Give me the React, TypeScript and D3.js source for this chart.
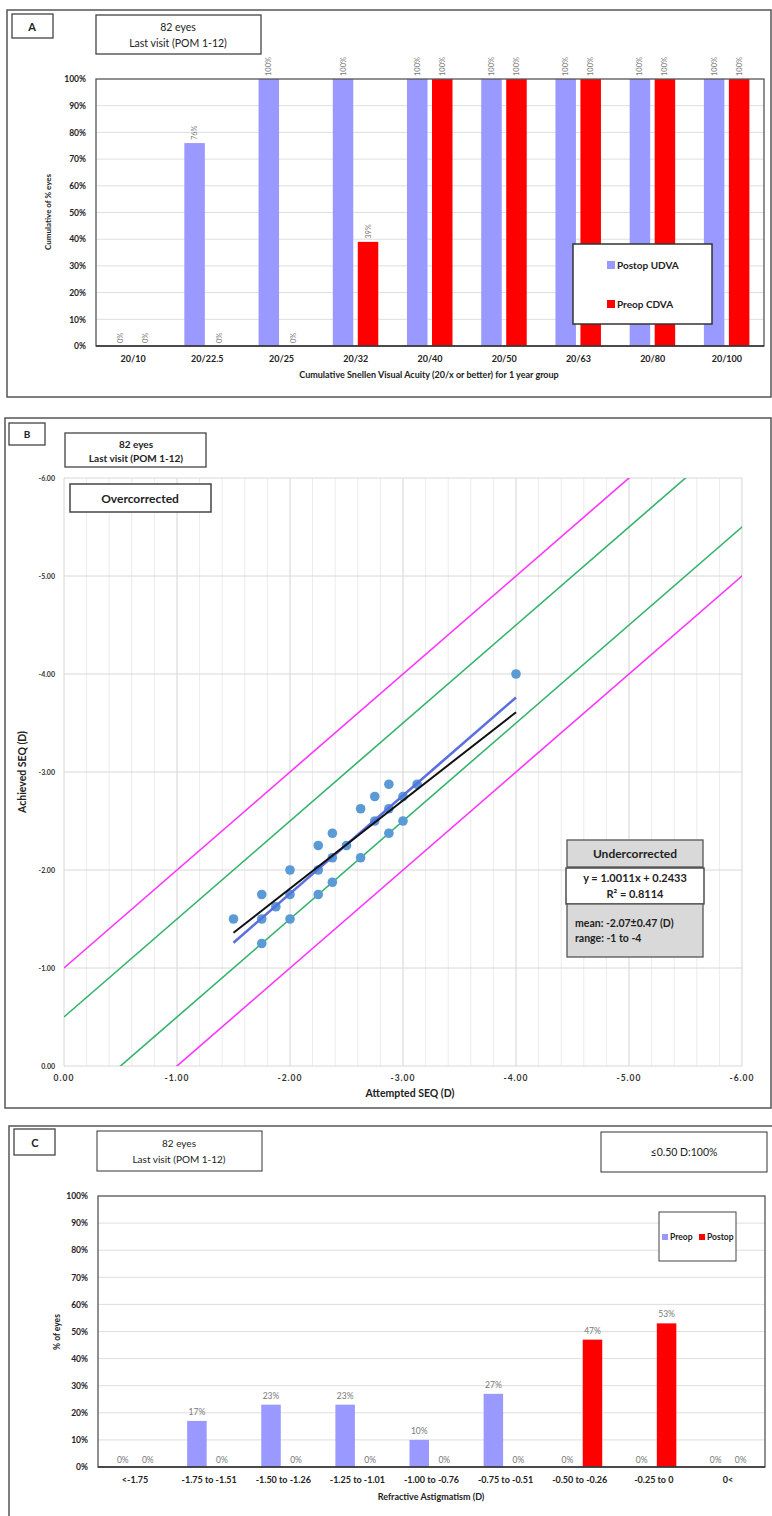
import React, { useEffect, useRef } from 'react';
import * as d3 from 'd3';

// Panel A - cumulative Snellen visual acuity
const snellenCats = ['20/10', '20/22.5', '20/25', '20/32', '20/40', '20/50', '20/63', '20/80', '20/100'];
const postopUDVA = [0, 76, 100, 100, 100, 100, 100, 100, 100];
const preopCDVA = [0, 0, 0, 39, 100, 100, 100, 100, 100];

// Panel B - attempted vs achieved SEQ (D)
const attemptedSEQ = [-1.5, -1.75, -1.75, -1.75, -1.875, -2, -2, -2, -2.25, -2.25, -2.25, -2.375, -2.375, -2.375, -2.5, -2.625, -2.625, -2.75, -2.75, -2.875, -2.875, -2.875, -3, -3, -3.125, -4];
const achievedSEQ = [-1.5, -1.75, -1.5, -1.25, -1.625, -2, -1.75, -1.5, -2.25, -2, -1.75, -2.375, -2.125, -1.875, -2.25, -2.625, -2.125, -2.75, -2.5, -2.875, -2.625, -2.375, -2.75, -2.5, -2.875, -4];
const trendSlope = 1.0011;
const trendIntercept = 0.2433;
const blackSlope = 0.9;
const blackIntercept = -0.01;
const magentaOffsets = [-1, 1];
const greenOffsets = [-0.5, 0.5];

// Panel C - refractive astigmatism
const astigCats = ['<-1.75', '-1.75 to -1.51', '-1.50 to -1.26', '-1.25 to -1.01', '-1.00 to -0.76', '-0.75 to -0.51', '-0.50 to -0.26', '-0.25 to 0', '0<'];
const preopAstig = [0, 17, 23, 23, 10, 27, 0, 0, 0];
const postopAstig = [0, 0, 0, 0, 0, 0, 47, 53, 0];

const BLUE = '#9999ff';
const RED = '#ff0000';
const FONT = 'Lato, "Open Sans", sans-serif';

function box(svg: any, x: number, y: number, w: number, h: number, fill = 'white', stroke = '#444', sw = 1.3) {
    svg.append('rect')
        .attr('x', x).attr('y', y).attr('width', w).attr('height', h)
        .attr('fill', fill).attr('stroke', stroke).attr('stroke-width', sw);
}

function label(svg: any, x: number, y: number, txt: string, size: number, weight = 'normal', anchor = 'middle', fill = '#222') {
    return svg.append('text')
        .attr('x', x).attr('y', y)
        .attr('text-anchor', anchor)
        .style('font-size', size + 'px')
        .style('font-weight', weight)
        .attr('fill', fill)
        .text(txt);
}

function drawBars(svg: any, cfg: any) {
    const { left, right, top, bottom, cats, s1, s2, off1, off2, bw, rotate } = cfg;
    const x = d3.scaleBand().domain(cats).range([left, right]);
    const y = d3.scaleLinear().domain([0, 100]).range([bottom, top]);

    svg.append('g').selectAll('line')
        .data(d3.range(10, 100, 10))
        .enter().append('line')
        .attr('x1', left).attr('x2', right)
        .attr('y1', (d: number) => y(d)).attr('y2', (d: number) => y(d))
        .attr('stroke', '#dedede').attr('stroke-width', 1);

    const yAxis = svg.append('g')
        .attr('transform', `translate(${left},0)`)
        .call(d3.axisLeft(y).tickValues(d3.range(0, 101, 10)).tickFormat((d: any) => d + '%').tickSize(0).tickPadding(10));
    yAxis.select('.domain').remove();
    yAxis.selectAll('text').style('font-size', '8.5px').style('font-weight', 'bold').style('font-family', FONT).attr('fill', '#222');

    const cx = (c: string) => (x(c) as number) + x.bandwidth() / 2;

    const series = [
        { vals: s1, color: BLUE, off: off1 },
        { vals: s2, color: RED, off: off2 }
    ];
    series.forEach((s) => {
        svg.append('g').selectAll('rect')
            .data(s.vals)
            .enter().append('rect')
            .attr('x', (d: number, i: number) => cx(cats[i]) + s.off)
            .attr('y', (d: number) => y(d))
            .attr('width', bw)
            .attr('height', (d: number) => bottom - y(d))
            .attr('fill', s.color);

        const lbl = svg.append('g').selectAll('text')
            .data(s.vals)
            .enter().append('text')
            .attr('fill', '#777')
            .style('font-size', rotate ? '7.5px' : '8.5px')
            .text((d: number) => d + '%');
        if (rotate) {
            lbl.attr('text-anchor', 'start')
                .attr('transform', (d: number, i: number) =>
                    `translate(${cx(cats[i]) + s.off + bw / 2 + 2.5},${y(d) - 3}) rotate(-90)`);
        } else {
            lbl.attr('text-anchor', 'middle')
                .attr('x', (d: number, i: number) => cx(cats[i]) + s.off + bw / 2)
                .attr('y', (d: number) => y(d) - (d === 0 ? 4 : 6));
        }
    });

    // plot frame
    svg.append('rect')
        .attr('x', left).attr('y', top).attr('width', right - left).attr('height', bottom - top)
        .attr('fill', 'none').attr('stroke', '#555').attr('stroke-width', 1.3);
    svg.append('line').attr('x1', left).attr('x2', right).attr('y1', bottom).attr('y2', bottom)
        .attr('stroke', '#333').attr('stroke-width', 1.5);

    svg.append('g').selectAll('text')
        .data(cats)
        .enter().append('text')
        .attr('x', (d: string) => cx(d))
        .attr('y', bottom + 16)
        .attr('text-anchor', 'middle')
        .style('font-size', '9px').style('font-weight', 'bold')
        .attr('fill', '#222')
        .text((d: string) => d);
}

function App() {
    const ref = useRef<SVGSVGElement>(null);

    useEffect(() => {
        const svg = d3.select(ref.current);
        svg.selectAll('*').remove();
        svg.style('font-family', FONT);

        // ---------- Panel A ----------
        box(svg, 7, 10, 764, 387, 'white', '#555', 1.5);
        box(svg, 12, 14, 41, 24);
        label(svg, 32, 31, 'A', 11, 'bold');
        box(svg, 96, 15, 165, 39);
        label(svg, 178, 31, '82 eyes', 10.5);
        label(svg, 178, 47, 'Last visit (POM 1-12)', 10.5);

        drawBars(svg, {
            left: 96, right: 764, top: 79, bottom: 346,
            cats: snellenCats, s1: postopUDVA, s2: preopCDVA,
            off1: -23, off2: 2, bw: 20.5, rotate: true
        });

        label(svg, 0, 0, 'Cumulative of % eyes', 8, 'bold')
            .attr('transform', 'translate(51,212) rotate(-90)');
        label(svg, 429, 378, 'Cumulative Snellen Visual Acuity (20/x or better) for 1  year group', 9, 'bold');

        box(svg, 573, 244, 139, 80, 'white', '#333', 1.5);
        svg.append('rect').attr('x', 607).attr('y', 261).attr('width', 8).attr('height', 8).attr('fill', BLUE);
        label(svg, 617, 268.5, 'Postop UDVA', 10, 'bold', 'start');
        svg.append('rect').attr('x', 607).attr('y', 300).attr('width', 8).attr('height', 8).attr('fill', RED);
        label(svg, 617, 307.5, 'Preop CDVA', 10, 'bold', 'start');

        // ---------- Panel B ----------
        box(svg, 5, 418, 766, 690, 'white', '#555', 1.5);
        box(svg, 9, 423, 36, 22);
        label(svg, 27, 438, 'B', 10, 'bold');
        box(svg, 65, 433, 141, 34);
        label(svg, 136, 448, '82 eyes', 10, 'bold');
        label(svg, 136, 462, 'Last visit (POM 1-12)', 10, 'bold');

        const bx = d3.scaleLinear().domain([0, -6]).range([64, 742]);
        const by = d3.scaleLinear().domain([0, -6]).range([1066, 478]);

        svg.append('g').selectAll('line')
            .data(d3.range(0, 31))
            .enter().append('line')
            .attr('x1', (d: number) => bx(-d * 0.2)).attr('x2', (d: number) => bx(-d * 0.2))
            .attr('y1', by(0)).attr('y2', by(-6))
            .attr('stroke', (d: number) => (d % 5 === 0 ? '#d4d4d4' : '#ececec'))
            .attr('stroke-width', 1);
        svg.append('g').selectAll('line')
            .data(d3.range(0, 7))
            .enter().append('line')
            .attr('x1', bx(0)).attr('x2', bx(-6))
            .attr('y1', (d: number) => by(-d)).attr('y2', (d: number) => by(-d))
            .attr('stroke', '#d8d8d8').attr('stroke-width', 1);

        svg.append('defs').append('clipPath').attr('id', 'clipB')
            .append('rect').attr('x', bx(0)).attr('y', by(-6))
            .attr('width', bx(-6) - bx(0)).attr('height', by(0) - by(-6));

        const plotB = svg.append('g').attr('clip-path', 'url(#clipB)');
        const guide = (off: number, color: string) => {
            plotB.append('line')
                .attr('x1', bx(0)).attr('y1', by(off))
                .attr('x2', bx(-7)).attr('y2', by(-7 + off))
                .attr('stroke', color).attr('stroke-width', 1.6);
        };
        magentaOffsets.forEach((o) => guide(o, '#ff33ff'));
        greenOffsets.forEach((o) => guide(o, '#33b36b'));

        plotB.append('g').selectAll('circle')
            .data(attemptedSEQ)
            .enter().append('circle')
            .attr('cx', (d: number) => bx(d))
            .attr('cy', (d: number, i: number) => by(achievedSEQ[i]))
            .attr('r', 4.8)
            .attr('fill', '#5b9bd5');

        const xr = d3.extent(attemptedSEQ) as [number, number];
        plotB.append('line')
            .attr('x1', bx(xr[1])).attr('y1', by(trendSlope * xr[1] + trendIntercept))
            .attr('x2', bx(xr[0])).attr('y2', by(trendSlope * xr[0] + trendIntercept))
            .attr('stroke', '#5a6fe0').attr('stroke-width', 2.6);
        plotB.append('line')
            .attr('x1', bx(xr[1])).attr('y1', by(blackSlope * xr[1] + blackIntercept))
            .attr('x2', bx(xr[0])).attr('y2', by(blackSlope * xr[0] + blackIntercept))
            .attr('stroke', '#111').attr('stroke-width', 2);

        svg.append('g').selectAll('text')
            .data(d3.range(0, 7))
            .enter().append('text')
            .attr('x', 55).attr('y', (d: number) => by(-d) + 3)
            .attr('text-anchor', 'end')
            .style('font-size', '7px').style('font-weight', 'bold')
            .attr('fill', '#333')
            .text((d: number) => (d === 0 ? '0.00' : (-d).toFixed(2)));
        svg.append('g').selectAll('text')
            .data(d3.range(0, 7))
            .enter().append('text')
            .attr('x', (d: number) => bx(-d)).attr('y', 1081)
            .attr('text-anchor', 'middle')
            .style('font-size', '8.5px').style('font-weight', 'bold').style('letter-spacing', '1px')
            .attr('fill', '#333')
            .text((d: number) => (d === 0 ? '0.00' : (-d).toFixed(2)));

        label(svg, 0, 0, 'Achieved SEQ (D)', 10.5, 'bold')
            .attr('transform', 'translate(26,772) rotate(-90)');
        label(svg, 410, 1097, 'Attempted SEQ (D)', 10.5, 'bold');

        box(svg, 70, 484, 141, 28, 'white', '#444', 1.5);
        label(svg, 140, 503, 'Overcorrected', 12, 'bold');

        box(svg, 567, 840, 136, 27, '#d9d9d9', '#555', 1.3);
        label(svg, 635, 858, 'Undercorrected', 12, 'bold');
        box(svg, 566, 868, 138, 36, 'white', '#333', 1.3);
        label(svg, 635, 882, 'y = 1.0011x + 0.2433', 11, 'bold');
        label(svg, 635, 898, 'R² = 0.8114', 11, 'bold');
        box(svg, 567, 904, 136, 53, '#d9d9d9', '#555', 1.3);
        label(svg, 575, 927, 'mean: -2.07±0.47 (D)', 10.5, 'bold', 'start');
        label(svg, 575, 942, 'range: -1 to -4', 10.5, 'bold', 'start');

        // ---------- Panel C ----------
        box(svg, 9, 1126, 780, 420, 'white', '#555', 1.5);
        box(svg, 14, 1129, 41, 26);
        label(svg, 35, 1147, 'C', 11, 'bold');
        box(svg, 97, 1131, 165, 40, 'white', '#333', 1);
        label(svg, 179, 1147, '82 eyes', 10);
        label(svg, 179, 1163, 'Last visit (POM 1-12)', 10);
        box(svg, 601, 1132, 166, 40, 'white', '#333', 1);
        label(svg, 684, 1156, '≤0.50 D:100%', 10.5);

        drawBars(svg, {
            left: 98, right: 765, top: 1196, bottom: 1467,
            cats: astigCats, s1: preopAstig, s2: postopAstig,
            off1: -22, off2: 3, bw: 19.5, rotate: false
        });

        label(svg, 0, 0, '% of  eyes', 8.5, 'bold')
            .attr('transform', 'translate(60,1332) rotate(-90)');
        label(svg, 431, 1500, 'Refractive Astigmatism (D)', 9, 'bold');

        box(svg, 659, 1212, 77, 49, 'white', '#444', 1);
        svg.append('rect').attr('x', 662).attr('y', 1234).attr('width', 6).attr('height', 6).attr('fill', BLUE);
        label(svg, 670, 1240, 'Preop', 8.5, 'bold', 'start');
        svg.append('rect').attr('x', 699).attr('y', 1234).attr('width', 6).attr('height', 6).attr('fill', RED);
        label(svg, 707, 1240, 'Postop', 8.5, 'bold', 'start');
    }, []);

    return (
        <svg ref={ref} width={772} height={1516}
            style={{ position: 'absolute', left: 0, top: 0, background: 'white' }} />
    );
}

export default App;
